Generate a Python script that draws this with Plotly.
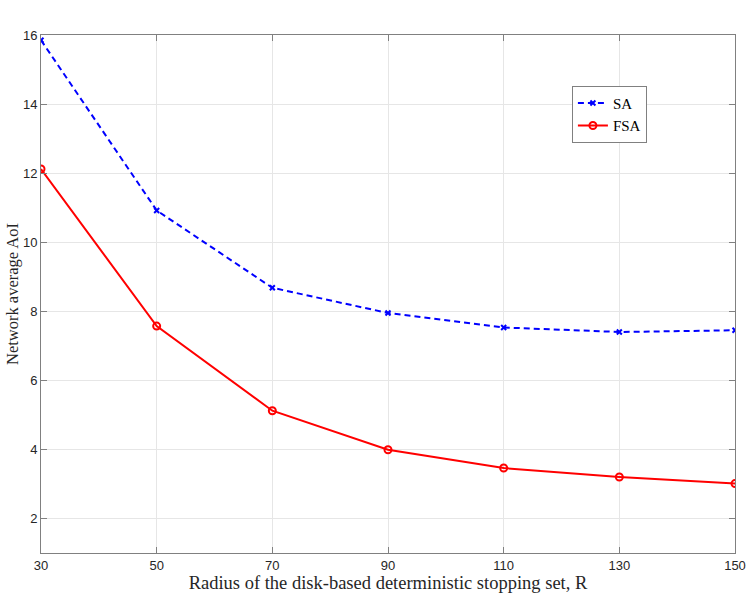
import plotly.graph_objects as go

# radius of stopping set
radius = [30, 50, 70, 90, 110, 130, 150]
# network average AoI
aoi_sa = [15.85, 10.92, 8.68, 7.95, 7.53, 7.40, 7.45]
aoi_fsa = [12.12, 7.57, 5.12, 3.99, 3.46, 3.20, 3.01]

x_ticks = [30, 50, 70, 90, 110, 130, 150]
y_ticks = [2, 4, 6, 8, 10, 12, 14, 16]

fig = go.Figure()
fig.add_trace(go.Scatter(
    x=radius, y=aoi_sa, name='SA', mode='lines+markers',
    line=dict(color='#0000ff', width=2, dash='6px,4px'),
    marker=dict(symbol='x-thin-open', size=5, color='#0000ff',
                line=dict(color='#0000ff', width=2)),
))
fig.add_trace(go.Scatter(
    x=radius, y=aoi_fsa, name='FSA', mode='lines+markers',
    line=dict(color='#ff0000', width=2),
    marker=dict(symbol='circle-open', size=7, color='#ff0000',
                line=dict(color='#ff0000', width=2)),
))

axis_common = dict(
    showgrid=True, gridcolor='#e6e6e6', gridwidth=1,
    showline=True, linecolor='#808080', linewidth=1, mirror='ticks',
    ticks='inside', ticklen=6, tickcolor='#808080',
    zeroline=False, automargin=False,
    tickfont=dict(family='Liberation Sans, Arial', size=13, color='#262626'),
)

fig.update_xaxes(
    range=[30, 150], tickvals=x_ticks,
    title=dict(text='Radius of the disk-based deterministic stopping set, R',
               font=dict(family='Liberation Serif, Times New Roman', size=18.5, color='#262626'),
               standoff=3),
    **axis_common,
)
fig.update_yaxes(
    range=[1, 16], tickvals=y_ticks,
    title=dict(text='Network average AoI',
               font=dict(family='Liberation Serif, Times New Roman', size=16.5, color='#262626'),
               standoff=0),
    **axis_common,
)

fig.update_layout(
    width=747, height=611,
    margin=dict(l=41, r=12, t=35, b=58),
    plot_bgcolor='white', paper_bgcolor='white',
    legend=dict(
        x=0.765, y=0.902, xanchor='left', yanchor='top',
        bgcolor='white', bordercolor='#808080', borderwidth=1,
        font=dict(family='Liberation Serif, Times New Roman', size=15, color='#000000'),
        tracegroupgap=0, itemwidth=30,
    ),
)

# drop the default 8px body margin so the figure fills the window
fig.write_html("out.html", config={'displayModeBar': False},
               post_script="document.body.style.margin='0';document.body.style.overflow='hidden';")
